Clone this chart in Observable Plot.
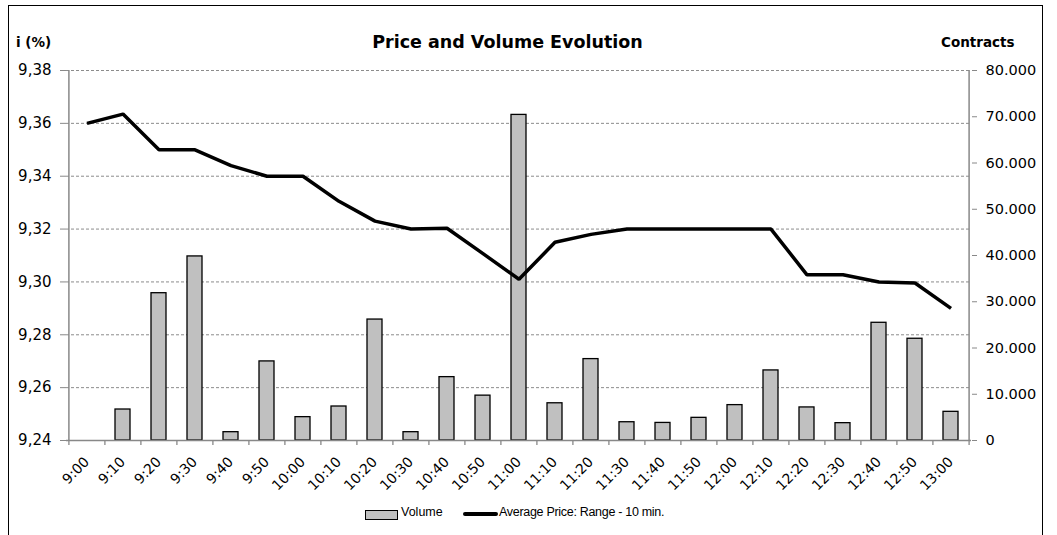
<!DOCTYPE html>
<html>
<head>
<meta charset="utf-8">
<script src="https://cdn.jsdelivr.net/npm/d3@7"></script>
<script src="https://cdn.jsdelivr.net/npm/@observablehq/plot@0.6"></script>
<style>
  html, body { margin: 0; padding: 0; background: #fff; }
  body { width: 1057px; height: 535px; position: relative; overflow: hidden; font-family: "DejaVu Sans", sans-serif; }
  #border { position: absolute; left: 8px; top: 5px; width: 1035px; height: 560px; border: 1px solid #000; box-sizing: border-box; }
  #header { position: absolute; left: 0; top: 0; width: 1057px; height: 60px; }
  .hdr { position: absolute; font-weight: bold; color: #000; white-space: nowrap; }
  #chart { position: absolute; left: 0; top: 60px; }
  #legend { position: absolute; top: 505px; left: 0; width: 1057px; height: 16px; font-family: "Liberation Sans", sans-serif; font-size: 12.5px; color: #000; }
  .sw { position: absolute; }
</style>
</head>
<body>
<div id="border"></div>
<div id="header">
  <div class="hdr" id="ylab" style="left:16px; top:34px; font-size:13.5px;"></div>
  <div class="hdr" id="title" style="left:0; width:1015px; text-align:center; top:32px; font-size:17.5px;"></div>
  <div class="hdr" id="y2lab" style="left:941px; top:34px; font-size:13.5px;"></div>
</div>
<div id="chart"></div>
<div id="legend">
  <div class="sw" style="left:365px; top:5px; width:31px; height:8px; background:#c0c0c0; border:1px solid #000;"></div>
  <div class="sw" id="lg1" style="left:401px; top:0px;"></div>
  <div class="sw" style="left:463px; top:7px; width:35px; height:4px; background:#000; border-radius:2px;"></div>
  <div class="sw" id="lg2" style="left:499px; top:0px; letter-spacing:-0.3px;"></div>
</div>
<script>
// ---- data ----
const times = ["9:00","9:10","9:20","9:30","9:40","9:50","10:00","10:10","10:20","10:30","10:40","10:50","11:00",
               "11:10","11:20","11:30","11:40","11:50","12:00","12:10","12:20","12:30","12:40","12:50","13:00"];
const volume = [0, 6700, 31850, 39800, 1800, 17100, 5050, 7350, 26150, 1800, 13700, 9700, 70400,
                8050, 17600, 3950, 3800, 4900, 7650, 15150, 7150, 3750, 25450, 22000, 6200];
const avgPrice = [9.360, 9.3635, 9.350, 9.350, 9.344, 9.340, 9.340, 9.3305, 9.323, 9.320, 9.3203, 9.3107, 9.301,
                  9.315, 9.318, 9.320, 9.320, 9.320, 9.320, 9.320, 9.3027, 9.3027, 9.300, 9.2996, 9.290];
const priceTicks = [9.24, 9.26, 9.28, 9.30, 9.32, 9.34, 9.36, 9.38];
const volumeTicks = [0, 10000, 20000, 30000, 40000, 50000, 60000, 70000, 80000];
const titleText = "Price and Volume Evolution";
const leftAxisLabel = "i (%)";
const rightAxisLabel = "Contracts";
const seriesNames = ["Volume", "Average Price: Range - 10 min."];

document.getElementById("title").textContent = titleText;
document.getElementById("ylab").textContent = leftAxisLabel;
document.getElementById("y2lab").textContent = rightAxisLabel;
document.getElementById("lg1").textContent = seriesNames[0];
document.getElementById("lg2").textContent = seriesNames[1];

// map volume domain onto price domain for the secondary axis
const pMin = priceTicks[0], pMax = priceTicks[priceTicks.length - 1];
const vMax = volumeTicks[volumeTicks.length - 1];
const v2p = v => pMin + v / vMax * (pMax - pMin);

const rows = times.map((t, i) => ({time: t, volume: volume[i], price: avgPrice[i]}));

const W = 1057, mL = 66, mR = 86;
const bw = (W - mL - mR) / times.length;
const fmtPrice = d => d3.format(".2f")(d).replace(".", ",");
const fmtVol = v => d3.format(",")(v).replace(/,/g, ".");

const font = "DejaVu Sans, sans-serif";

const plot = Plot.plot({
  width: W,
  height: 470,
  marginLeft: mL,
  marginRight: mR,
  marginTop: 10,
  marginBottom: 90,
  style: {fontFamily: font, fontSize: "14px", color: "#000", background: "transparent", overflow: "visible"},
  x: {type: "band", domain: times, paddingInner: 0.58, paddingOuter: 0.29, align: 0.5},
  y: {domain: [pMin, pMax]},
  marks: [
    Plot.gridY(priceTicks, {stroke: "#8c8c8c", strokeOpacity: 1, strokeDasharray: "3,2", strokeWidth: 1}),
    Plot.barY(rows, {x: "time", y1: () => pMin, y2: d => v2p(d.volume), fill: "#c0c0c0", stroke: "#000", strokeWidth: 1.3}),
    Plot.line(rows, {x: "time", y: "price", stroke: "#000", strokeWidth: 3.5, strokeLinejoin: "miter", strokeLinecap: "butt"}),
    // left axis
    Plot.axisY(priceTicks, {anchor: "left", tickFormat: fmtPrice, tickSize: 6, tickPadding: 9, stroke: "#888", fill: "#000", fontSize: 15, label: null}),
    // right axis (volume)
    Plot.axisY(volumeTicks.map(v2p), {anchor: "right", tickFormat: p => fmtVol(Math.round((p - pMin) / (pMax - pMin) * vMax)), tickSize: 5, tickPadding: 9, stroke: "#888", fill: "#000", fontSize: 14.5, label: null}),
    // bottom axis labels
    Plot.axisX(times, {anchor: "bottom", tickSize: 0, tickPadding: 19, tickRotate: -45, fontSize: 14, fill: "#000", label: null}),
    // bottom axis tick marks between categories
    Plot.axisX(times, {anchor: "bottom", tickSize: 5, dx: -bw / 2, tickFormat: () => "", stroke: "#888", strokeWidth: 1.3, label: null}),
    Plot.axisX([times[times.length - 1]], {anchor: "bottom", tickSize: 5, dx: bw / 2, tickFormat: () => "", stroke: "#888", strokeWidth: 1.3, label: null}),
    // axis lines
    Plot.ruleX([times[0]], {dx: -bw / 2, stroke: "#888", strokeWidth: 1.5}),
    Plot.ruleX([times[times.length - 1]], {dx: bw / 2, stroke: "#888", strokeWidth: 1.5}),
    Plot.ruleY([pMin], {stroke: "#888", strokeWidth: 1.5})
  ]
});
document.getElementById("chart").appendChild(plot);
</script>
</body>
</html>
